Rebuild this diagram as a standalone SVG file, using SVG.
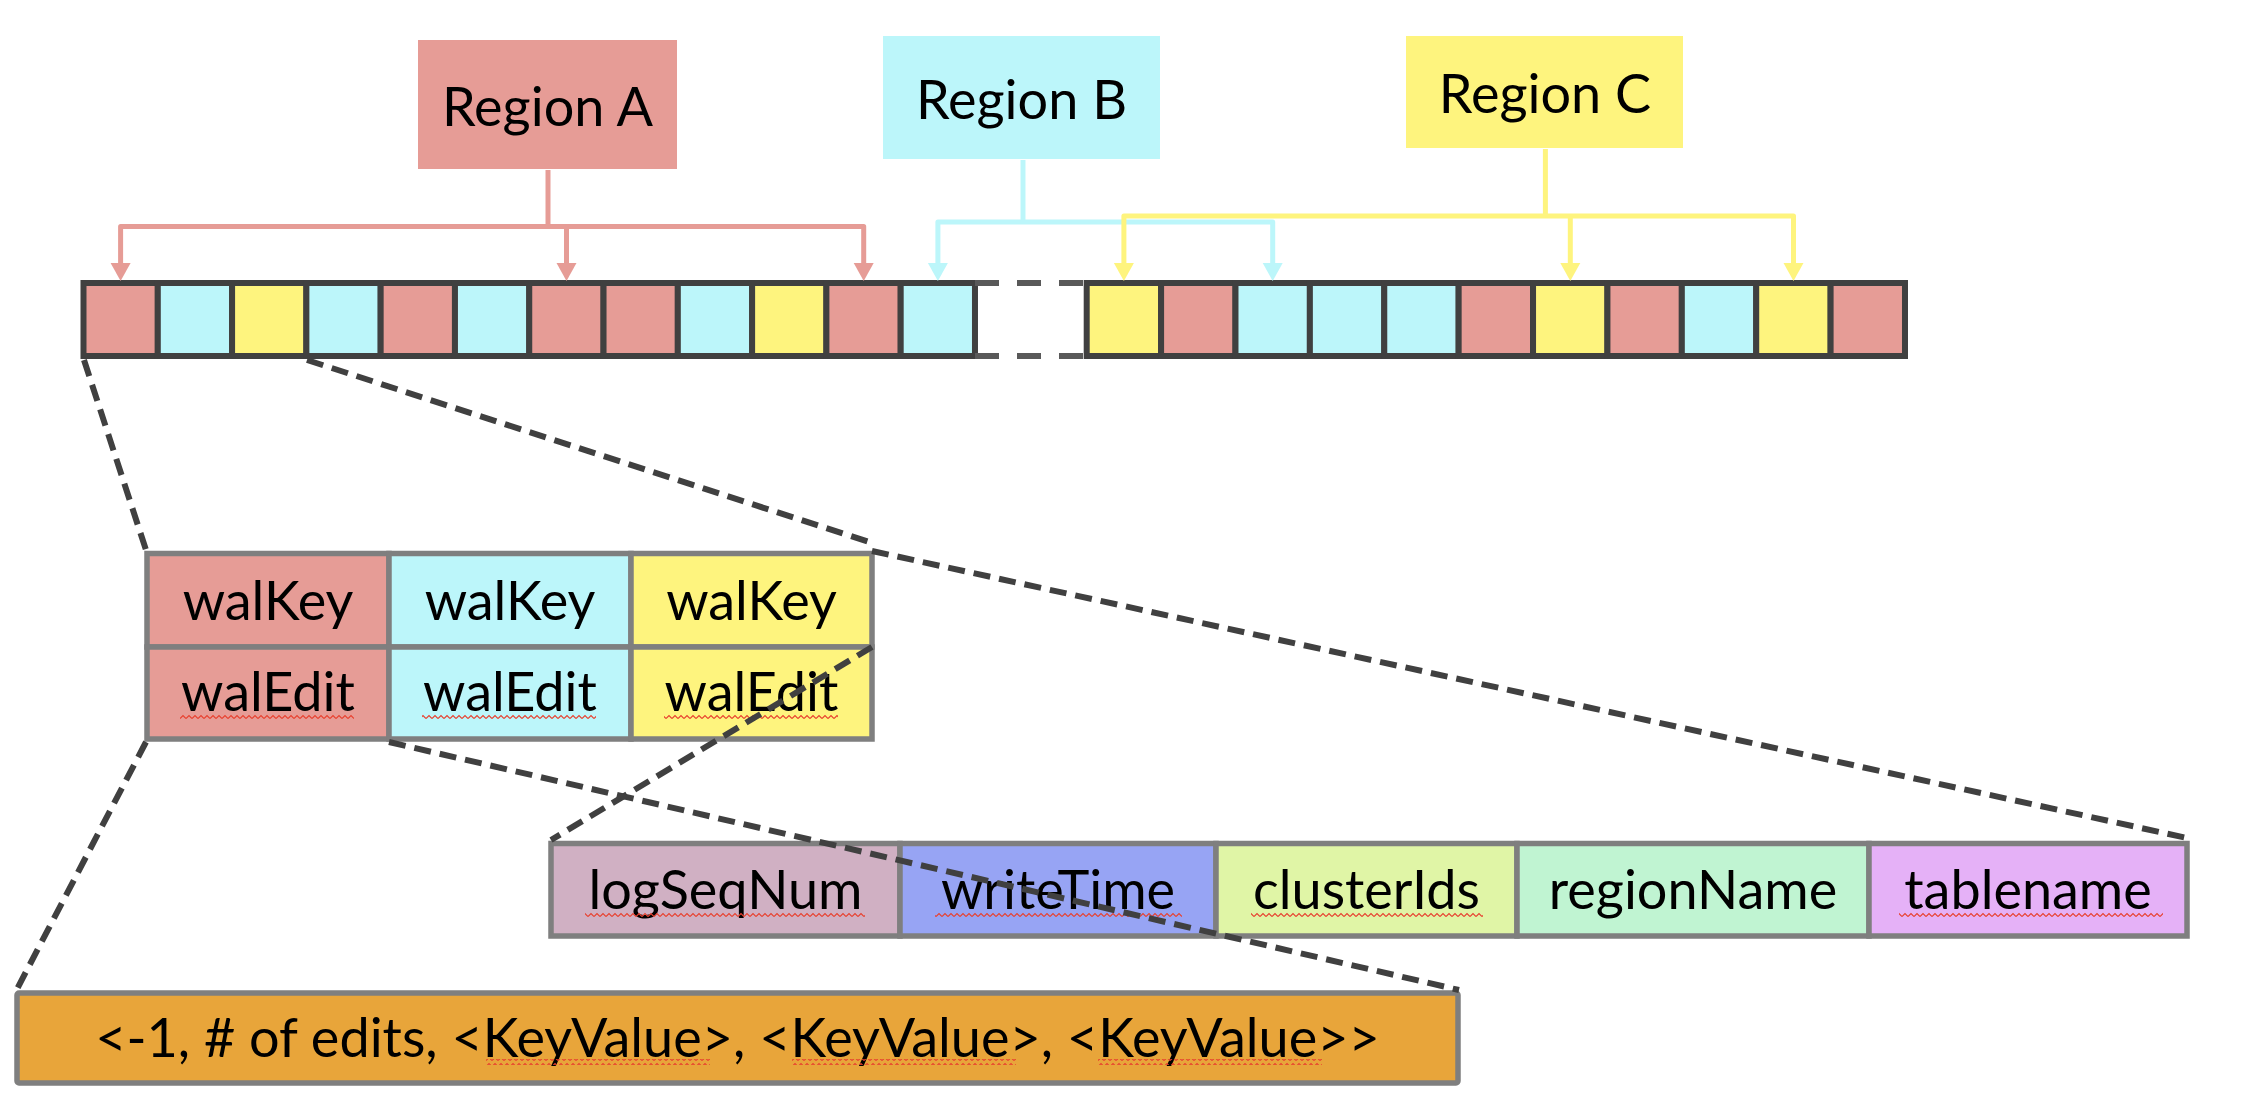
<svg xmlns="http://www.w3.org/2000/svg" width="2266" height="1098" viewBox="0 0 2266 1098">
  <style>
    .lbl { font-family: Lato, "Liberation Sans", sans-serif; font-size: 54px; fill: #000; text-anchor: middle; }
    .pink { fill: #E69C96; }
    .cyan { fill: #BCF6FA; }
    .yel { fill: #FEF47E; }
    .cell { stroke: #404040; stroke-width: 6; }
    .tcell { stroke: #7F7F7F; stroke-width: 5.5; }
    .dash { fill: none; stroke: #404040; stroke-width: 6; stroke-dasharray: 17 9; }
    .gap { fill: none; stroke: #595959; stroke-width: 6; stroke-dasharray: 24 18; }
    .cA { fill: none; stroke: #E69C96; stroke-width: 5; stroke-linejoin: round; }
    .cB { fill: none; stroke: #BCF6FA; stroke-width: 5; stroke-linejoin: round; }
    .cC { fill: none; stroke: #FEF47E; stroke-width: 5; stroke-linejoin: round; }
    .sq { fill: url(#squig); }
  </style>
  <defs>
    <pattern id="squig" patternUnits="userSpaceOnUse" x="0" y="0" width="6" height="6">
      <path d="M0,4.5 L3,1.5 L6,4.5" fill="none" stroke="#E8402E" stroke-width="1.2"/>
    </pattern>
    <marker id="arrA" markerUnits="userSpaceOnUse" markerWidth="20" markerHeight="19" refX="10" refY="0" orient="0" overflow="visible">
      <path d="M0,0 L20,0 L10,18 z" fill="#E69C96"/>
    </marker>
    <marker id="arrB" markerUnits="userSpaceOnUse" markerWidth="20" markerHeight="19" refX="10" refY="0" orient="0" overflow="visible">
      <path d="M0,0 L20,0 L10,18 z" fill="#BCF6FA"/>
    </marker>
    <marker id="arrC" markerUnits="userSpaceOnUse" markerWidth="20" markerHeight="19" refX="10" refY="0" orient="0" overflow="visible">
      <path d="M0,0 L20,0 L10,18 z" fill="#FEF47E"/>
    </marker>
  </defs>
  <rect x="0" y="0" width="2266" height="1098" fill="#FFFFFF"/>

  <g id="region-a">
    <rect x="418" y="40" width="259" height="129" class="pink"/>
    <text x="547.5" y="126" class="lbl">Region A</text>
  </g>
  <g id="region-b">
    <rect x="883" y="36" width="277" height="123" class="cyan"/>
    <text x="1021.5" y="119" class="lbl">Region B</text>
  </g>
  <g id="region-c">
    <rect x="1406" y="36" width="277" height="112" class="yel"/>
    <text x="1545" y="113" class="lbl">Region C</text>
  </g>

  <g id="wal-log">
    <g id="wal-log-left">
      <rect x="83.5" y="283" width="74.29" height="73" class="pink cell"/>
      <rect x="157.79" y="283" width="74.29" height="73" class="cyan cell"/>
      <rect x="232.08" y="283" width="74.29" height="73" class="yel cell"/>
      <rect x="306.37" y="283" width="74.29" height="73" class="cyan cell"/>
      <rect x="380.66" y="283" width="74.29" height="73" class="pink cell"/>
      <rect x="454.95" y="283" width="74.29" height="73" class="cyan cell"/>
      <rect x="529.24" y="283" width="74.29" height="73" class="pink cell"/>
      <rect x="603.53" y="283" width="74.29" height="73" class="pink cell"/>
      <rect x="677.82" y="283" width="74.29" height="73" class="cyan cell"/>
      <rect x="752.11" y="283" width="74.29" height="73" class="yel cell"/>
      <rect x="826.40" y="283" width="74.29" height="73" class="pink cell"/>
      <rect x="900.69" y="283" width="74.29" height="73" class="cyan cell"/>
    </g>
    <path d="M975,283 H1087 M975,356 H1087" class="gap"/>
    <g id="wal-log-right">
      <rect x="1086.7" y="283" width="74.39" height="73" class="yel cell"/>
      <rect x="1161.09" y="283" width="74.39" height="73" class="pink cell"/>
      <rect x="1235.48" y="283" width="74.39" height="73" class="cyan cell"/>
      <rect x="1309.87" y="283" width="74.39" height="73" class="cyan cell"/>
      <rect x="1384.26" y="283" width="74.39" height="73" class="cyan cell"/>
      <rect x="1458.65" y="283" width="74.39" height="73" class="pink cell"/>
      <rect x="1533.04" y="283" width="74.39" height="73" class="yel cell"/>
      <rect x="1607.43" y="283" width="74.39" height="73" class="pink cell"/>
      <rect x="1681.82" y="283" width="74.39" height="73" class="cyan cell"/>
      <rect x="1756.21" y="283" width="74.39" height="73" class="yel cell"/>
      <rect x="1830.60" y="283" width="74.39" height="73" class="pink cell"/>
    </g>
  </g>

  <g id="wal-entries">
    <rect x="147" y="553.5" width="242" height="93.5" class="pink tcell"/>
    <rect x="389" y="553.5" width="242" height="93.5" class="cyan tcell"/>
    <rect x="631" y="553.5" width="241" height="93.5" class="yel tcell"/>
    <rect x="147" y="647" width="242" height="92" class="pink tcell"/>
    <rect x="389" y="647" width="242" height="92" class="cyan tcell"/>
    <rect x="631" y="647" width="241" height="92" class="yel tcell"/>
    <text x="268" y="620" class="lbl">walKey</text>
    <text x="510" y="620" class="lbl">walKey</text>
    <text x="751.5" y="620" class="lbl">walKey</text>
    <text x="268" y="711" class="lbl">walEdit</text>
    <text x="510" y="711" class="lbl">walEdit</text>
    <text x="751.5" y="711" class="lbl">walEdit</text>
    <rect x="180" y="713" width="174" height="6" class="sq"/>
    <rect x="422" y="713" width="174" height="6" class="sq"/>
    <rect x="664" y="713" width="174" height="6" class="sq"/>
  </g>

  <g id="walkey-fields">
    <rect x="551" y="843.5" width="349" height="92.5" class="tcell" fill="#D0B0C3"/>
    <rect x="900" y="843.5" width="316" height="92.5" class="tcell" fill="#97A4F4"/>
    <rect x="1216" y="843.5" width="301" height="92.5" class="tcell" fill="#E0F5A6"/>
    <rect x="1517" y="843.5" width="352" height="92.5" class="tcell" fill="#C0F4D2"/>
    <rect x="1869" y="843.5" width="318" height="92.5" class="tcell" fill="#E5B1F7"/>
    <text x="725.5" y="909" class="lbl">logSeqNum</text>
    <text x="1058" y="909" class="lbl">writeTime</text>
    <text x="1366.5" y="909" class="lbl">clusterIds</text>
    <text x="1693" y="909" class="lbl">regionName</text>
    <text x="2028" y="909" class="lbl">tablename</text>
    <rect x="585" y="911" width="280" height="6" class="sq"/>
    <rect x="935" y="911" width="247" height="6" class="sq"/>
    <rect x="1251" y="911" width="232" height="6" class="sq"/>
    <rect x="1899" y="911" width="264" height="6" class="sq"/>
  </g>

  <g id="waledit-content">
    <rect x="17" y="993" width="1441" height="90" rx="2" class="tcell" fill="#E8A53A"/>
    <text x="737.5" y="1057" class="lbl">&lt;-1, # of edits, &lt;KeyValue&gt;, &lt;KeyValue&gt;, &lt;KeyValue&gt;&gt;</text>
    <rect x="486" y="1059" width="224" height="6" class="sq"/>
    <rect x="792" y="1059" width="224" height="6" class="sq"/>
    <rect x="1098" y="1059" width="224" height="6" class="sq"/>
  </g>

  <g id="connectors">
    <path d="M548,170 V226.5" class="cA"/>
    <path d="M120.6,263 V226.5 H863.7 V263" class="cA" marker-start="url(#arrA)" marker-end="url(#arrA)"/>
    <path d="M566.5,226.5 V263" class="cA" marker-end="url(#arrA)"/>

    <path d="M1023,160 V222" class="cB"/>
    <path d="M937.9,263 V222 H1272.7 V263" class="cB" marker-start="url(#arrB)" marker-end="url(#arrB)"/>

    <path d="M1545.4,149 V216" class="cC"/>
    <path d="M1123.9,263 V216 H1793.5 V263" class="cC" marker-start="url(#arrC)" marker-end="url(#arrC)"/>
    <path d="M1570.3,216 V263" class="cC" marker-end="url(#arrC)"/>

    <path d="M84,360 L146,550" class="dash"/>
    <path d="M307,360 L869,542" class="dash"/>
    <path d="M872,551 L2187,838" class="dash"/>
    <path d="M146,742 L16,991" class="dash"/>
    <path d="M389,742 L1459,990" class="dash"/>
    <path d="M872,647 L551,840" class="dash"/>
  </g>
</svg>
